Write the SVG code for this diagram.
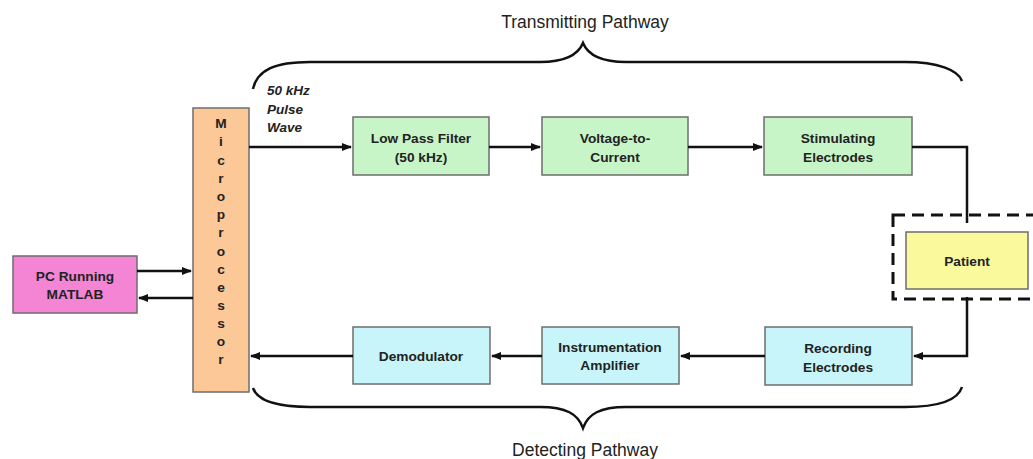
<svg xmlns="http://www.w3.org/2000/svg" width="1033" height="459" viewBox="0 0 1033 459">
<style>
.box{stroke:#6e6e6e;stroke-width:1.5}
.t{font-family:"Liberation Sans",Arial,sans-serif;font-weight:bold;font-size:13.7px;fill:#222;text-anchor:middle}
.lbl{font-family:"Liberation Sans",Arial,sans-serif;font-size:17.5px;fill:#222;text-anchor:middle}
.it{font-family:"Liberation Sans",Arial,sans-serif;font-weight:bold;font-style:italic;font-size:13.5px;fill:#222}
.ln{fill:none;stroke:#111;stroke-width:2.5}
.br{fill:none;stroke:#111;stroke-width:2.5}
</style>
<defs>
<marker id="ah" viewBox="0 0 10 10" refX="9" refY="5" markerWidth="4" markerHeight="4" orient="auto" markerUnits="strokeWidth">
<path d="M0,1 L10,5 L0,9 z" fill="#111"/>
</marker>
</defs>
<rect width="1033" height="459" fill="#fff"/>
<text class="lbl" x="585" y="28">Transmitting Pathway</text>
<text class="lbl" x="585" y="456">Detecting Pathway</text>
<g id="braces">
<path class="br" d="M253,89 C257,70 275,62 310,62 L540,62 C566,62 578,55 583,43 C588,55 600,62 626,62 L905,62 C938,62 958,70 962,81"/>
<path class="br" d="M253,388 C257,400 275,407 310,407 L540,407 C566,407 578,414 583,428 C588,414 600,407 626,407 L905,407 C938,407 958,400 962,387"/>
</g>
<g id="pulse-label">
<text class="it" x="267" y="95">50 kHz</text>
<text class="it" x="267" y="114">Pulse</text>
<text class="it" x="267" y="132">Wave</text>
</g>
<g id="pc">
<rect class="box" x="13" y="256" width="124" height="57" fill="#F484D4"/>
<text class="t" x="75" y="281">PC Running</text>
<text class="t" x="75" y="299">MATLAB</text>
</g>
<g id="microprocessor">
<rect class="box" x="193" y="108" width="56" height="284" fill="#FCC898"/>
<g class="t">
<text x="221" y="128">M</text>
<text x="221" y="146">i</text>
<text x="221" y="165">c</text>
<text x="221" y="183">r</text>
<text x="221" y="201">o</text>
<text x="221" y="219">p</text>
<text x="221" y="237">r</text>
<text x="221" y="256">o</text>
<text x="221" y="274">c</text>
<text x="221" y="292">e</text>
<text x="221" y="310">s</text>
<text x="221" y="328">s</text>
<text x="221" y="346">o</text>
<text x="221" y="364">r</text>
</g>
</g>
<g id="lpf">
<rect class="box" x="353" y="117" width="136" height="58" fill="#C8F5C8"/>
<text class="t" x="421" y="143">Low Pass Filter</text>
<text class="t" x="421" y="162">(50 kHz)</text>
</g>
<g id="vtoc">
<rect class="box" x="542" y="117" width="146" height="58" fill="#C8F5C8"/>
<text class="t" x="615" y="143">Voltage-to-</text>
<text class="t" x="615" y="162">Current</text>
</g>
<g id="stim">
<rect class="box" x="764" y="117" width="148" height="58" fill="#C8F5C8"/>
<text class="t" x="838" y="143">Stimulating</text>
<text class="t" x="838" y="162">Electrodes</text>
</g>
<g id="patient-zone">
<rect x="893" y="215" width="150" height="84" fill="none" stroke="#111" stroke-width="3" stroke-dasharray="12,7"/>
</g>
<g id="patient">
<rect class="box" x="906" y="232" width="122" height="57" fill="#FAFA9C"/>
<text class="t" x="967" y="266">Patient</text>
</g>
<g id="rec">
<rect class="box" x="765" y="327" width="147" height="58" fill="#C8F5FA"/>
<text class="t" x="838" y="353">Recording</text>
<text class="t" x="838" y="372">Electrodes</text>
</g>
<g id="inamp">
<rect class="box" x="542" y="327" width="137" height="57" fill="#C8F5FA"/>
<text class="t" x="610" y="352">Instrumentation</text>
<text class="t" x="610" y="370">Amplifier</text>
</g>
<g id="demod">
<rect class="box" x="353" y="327" width="137" height="57" fill="#C8F5FA"/>
<text class="t" x="421" y="361">Demodulator</text>
</g>
<g id="connectors">
<path class="ln" d="M137,271 L191,271" marker-end="url(#ah)"/>
<path class="ln" d="M193,298 L139,298" marker-end="url(#ah)"/>
<path class="ln" d="M249,147 L351,147" marker-end="url(#ah)"/>
<path class="ln" d="M489,147 L540,147" marker-end="url(#ah)"/>
<path class="ln" d="M688,147 L762,147" marker-end="url(#ah)"/>
<path class="ln" d="M912,147 L967,147 L967,223"/>
<path class="ln" d="M967,297 L967,356 L914,356" marker-end="url(#ah)"/>
<path class="ln" d="M765,356 L681,356" marker-end="url(#ah)"/>
<path class="ln" d="M542,356 L492,356" marker-end="url(#ah)"/>
<path class="ln" d="M353,356 L251,356" marker-end="url(#ah)"/>
</g>
</svg>
